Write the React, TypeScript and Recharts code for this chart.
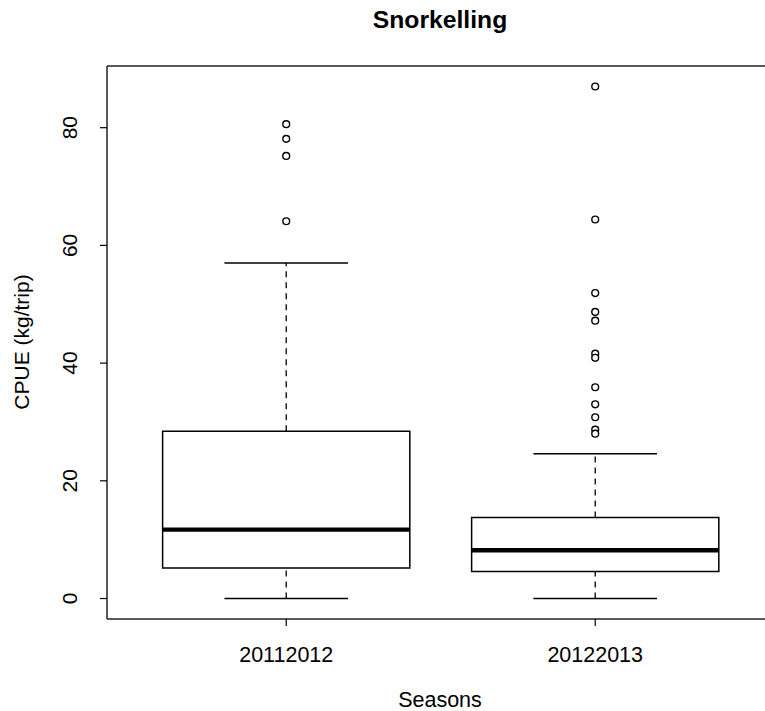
import React from 'react';
import { ComposedChart, XAxis, YAxis, Scatter, ReferenceArea, ReferenceLine } from 'recharts';

const seasons = ['20112012', '20122013'];
const positions = [1, 2];
const lowerWhisker = [0, 0];
const q1 = [5.2, 4.6];
const median = [11.7, 8.2];
const q3 = [28.4, 13.75];
const upperWhisker = [57.0, 24.6];
const outliers20112012 = [80.6, 78.1, 75.2, 64.1];
const outliers20122013 = [87.0, 64.4, 51.9, 48.7, 47.2, 41.6, 40.9, 35.9, 33.0, 30.8, 28.7, 28.0];
const yTicks = [0, 20, 40, 60, 80];

const outlierSets = [outliers20112012, outliers20122013];
const outlierPoints = outlierSets.flatMap((arr, i) => arr.map((v) => ({ x: positions[i], y: v })));

const FONT = '"Liberation Sans", Arial, sans-serif';
const W = 765;
const H = 711;
const BOX_HALF = 0.4;
const CAP_HALF = 0.2;

// R-style 4% axis extension
const dataMin = 0;
const dataMax = 87.0;
const ext = (dataMax - dataMin) * 0.04;
const yDomain: [number, number] = [dataMin - ext, dataMax + ext];
const xDomain: [number, number] = [0.42, 0.42 + 658 / 309];

const Outlier = (props: any) => (
  <circle cx={props.cx} cy={props.cy} r={3.4} fill="#fff" stroke="#000" strokeWidth={1.4} />
);

const YTick = (props: any) => {
  const { x, y, payload } = props;
  const cx = x - 28;
  return (
    <text x={cx} y={y} transform={`rotate(-90, ${cx}, ${y})`} textAnchor="middle" dominantBaseline="central"
      fontFamily={FONT} fontSize={21} fill="#000">
      {payload.value}
    </text>
  );
};

const XTick = (props: any) => {
  const { x, y, payload } = props;
  return (
    <text x={x} y={y + 34} textAnchor="middle" fontFamily={FONT} fontSize={21.5} fill="#000">
      {seasons[positions.indexOf(payload.value)]}
    </text>
  );
};

export default function App() {
  return (
    <div style={{ position: 'absolute', left: 0, top: 0, width: W, height: H, background: '#fff', overflow: 'hidden' }}>
      <ComposedChart width={W} height={H} margin={{ top: 66, right: 0, bottom: 42, left: 47 }}>
        <XAxis type="number" dataKey="x" domain={xDomain} ticks={positions} interval={0}
          allowDataOverflow tick={<XTick />} tickSize={7} tickLine={{ stroke: '#000', strokeWidth: 1.2 }}
          axisLine={{ stroke: '#222', strokeWidth: 1.5 }} height={50} />
        <YAxis type="number" dataKey="y" domain={yDomain} ticks={yTicks} interval={0}
          allowDataOverflow tick={<YTick />} tickSize={7} tickLine={{ stroke: '#000', strokeWidth: 1.2 }}
          axisLine={{ stroke: '#222', strokeWidth: 1.5 }} width={60} />
        <ReferenceLine y={yDomain[1]} stroke="#222" strokeWidth={1.5} />
        {positions.map((p, i) => (
          <ReferenceLine key={`wu${i}`} segment={[{ x: p, y: q3[i] }, { x: p, y: upperWhisker[i] }]}
            stroke="#000" strokeWidth={1.3} strokeDasharray="6 5" />
        ))}
        {positions.map((p, i) => (
          <ReferenceLine key={`wl${i}`} segment={[{ x: p, y: lowerWhisker[i] }, { x: p, y: q1[i] }]}
            stroke="#000" strokeWidth={1.3} strokeDasharray="6 5" />
        ))}
        {positions.map((p, i) => (
          <ReferenceLine key={`cu${i}`} segment={[{ x: p - CAP_HALF, y: upperWhisker[i] }, { x: p + CAP_HALF, y: upperWhisker[i] }]}
            stroke="#000" strokeWidth={1.4} />
        ))}
        {positions.map((p, i) => (
          <ReferenceLine key={`cl${i}`} segment={[{ x: p - CAP_HALF, y: lowerWhisker[i] }, { x: p + CAP_HALF, y: lowerWhisker[i] }]}
            stroke="#000" strokeWidth={1.4} />
        ))}
        {positions.map((p, i) => (
          <ReferenceArea key={`b${i}`} x1={p - BOX_HALF} x2={p + BOX_HALF} y1={q1[i]} y2={q3[i]}
            fill="#fff" fillOpacity={1} stroke="#000" strokeWidth={1.5} />
        ))}
        {positions.map((p, i) => (
          <ReferenceLine key={`m${i}`} segment={[{ x: p - BOX_HALF, y: median[i] }, { x: p + BOX_HALF, y: median[i] }]}
            stroke="#000" strokeWidth={4.3} />
        ))}
        <Scatter data={outlierPoints} dataKey="y" shape={<Outlier />} isAnimationActive={false} />
      </ComposedChart>
      <svg width={W} height={H} style={{ position: 'absolute', left: 0, top: 0, pointerEvents: 'none' }}>
        <text x={440} y={28} textAnchor="middle" fontFamily={FONT} fontSize={24.7} fontWeight="bold" fill="#000">Snorkelling</text>
        <text x={440} y={707} textAnchor="middle" fontFamily={FONT} fontSize={21.5} fill="#000">Seasons</text>
        <text x={29} y={342} transform="rotate(-90, 29, 342)" textAnchor="middle" fontFamily={FONT} fontSize={21} fill="#000">CPUE (kg/trip)</text>
      </svg>
    </div>
  );
}
